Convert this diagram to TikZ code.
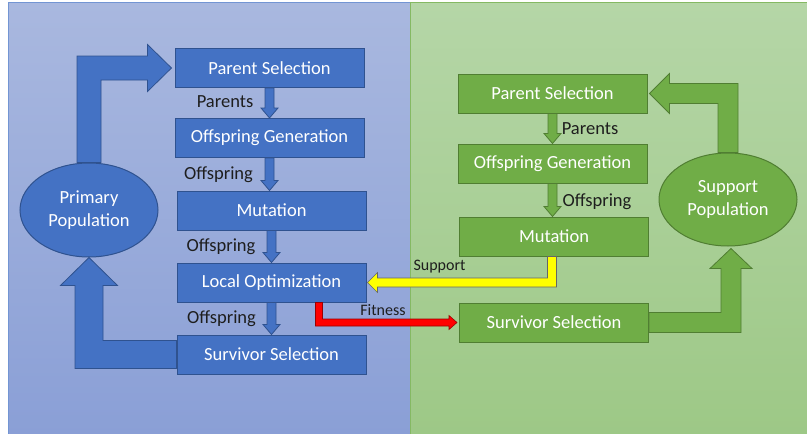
\documentclass[tikz,border=0pt]{standalone}
\usepackage{fontspec}
\setmainfont{Carlito}
\usetikzlibrary{shapes, calc, positioning}
\definecolor{popblue}{HTML}{4472C4}
\definecolor{popblueline}{HTML}{2F528F}
\definecolor{supgreen}{HTML}{70AD47}
\definecolor{supgreenline}{HTML}{507E32}
\definecolor{bluetop}{HTML}{A9B8DF}
\definecolor{bluebottom}{HTML}{8A9FD6}
\definecolor{greentop}{HTML}{B5D6A7}
\definecolor{greenbottom}{HTML}{9DC886}
\definecolor{supyellow}{HTML}{FFFF00}
\definecolor{fitred}{HTML}{FF0000}
\definecolor{labelgray}{HTML}{1E1E1E}

\tikzset{
  stagebox/.style={rectangle, text=white, line width=1pt, minimum width=189pt, minimum height=39pt, inner sep=0pt, font=\fontsize{18.5}{22}\selectfont},
  bluebox/.style={stagebox, draw=popblueline, fill=popblue},
  greenbox/.style={stagebox, draw=supgreenline, fill=supgreen},
  popnode/.style={ellipse, text=white, line width=1pt, minimum width=138pt, minimum height=94pt, inner sep=0pt, align=center, font=\fontsize{18.5}{23}\selectfont},
  flowlabel/.style={inner sep=0pt, text=labelgray, font=\fontsize{18.5}{22}\selectfont},
  crosslabel/.style={inner sep=0pt, text=labelgray, font=\fontsize{16}{19}\selectfont},
  bluearrow/.style={draw=popblueline, fill=popblue, line width=0.8pt},
  greenarrow/.style={draw=supgreenline, fill=supgreen, line width=0.8pt},
  yellowarrow/.style={draw=black!60, fill=supyellow, line width=0.6pt},
  redarrow/.style={draw=fitred!60!black, fill=fitred, line width=0.6pt}
}

\begin{document}
\begin{tikzpicture}[x=1pt, y=-1pt]
  \useasboundingbox (0,0) rectangle (807,434);

  % Two panels
  \shade[top color=bluetop, bottom color=bluebottom, draw=popblue!75, line width=0.8pt] (8,2) rectangle (410,436);
  \shade[top color=greentop, bottom color=greenbottom, draw=supgreen!85, line width=0.8pt] (410,2) rectangle (809,436);

  % Primary side
  \node[bluebox] (lps) at (269.5,68) {Parent Selection};
  \node[bluebox] (log) at (269.5,138) {Offspring Generation};
  \node[bluebox] (lmut) at (271.5,210.5) {Mutation};
  \node[bluebox] (lopt) at (271.5,282.5) {Local Optimization};
  \node[bluebox] (lsur) at (271.5,354.5) {Survivor Selection};
  \node[popnode, draw=popblueline, fill=popblue] (lpop) at (89,210) {Primary\\Population};

  % Support side
  \node[greenbox] (rps) at (552.5,93.5) {Parent Selection};
  \node[greenbox] (rog) at (552.5,163.5) {Offspring Generation};
  \node[greenbox] (rmut) at (554,236.5) {Mutation};
  \node[greenbox] (rsur) at (554,322.5) {Survivor Selection};
  \node[popnode, draw=supgreenline, fill=supgreen, minimum height=93pt] (rpop) at (728,199.5) {Support\\Population};

  % Small flow arrows
  \foreach \a/\b/\s in {lps/log/bluearrow, log/lmut/bluearrow, lmut/lopt/bluearrow, lopt/lsur/bluearrow, rps/rog/greenarrow, rog/rmut/greenarrow}
    \draw[\s] let \p1=(\a.south), \p2=(\b.north) in
      (\x1-4.5pt,\y1) -- (\x1+4.5pt,\y1) -- (\x1+4.5pt,\y2+10pt) -- (\x1+8.5pt,\y2+10pt)
      -- (\x1,\y2) -- (\x1-8.5pt,\y2+10pt) -- (\x1-4.5pt,\y2+10pt) -- cycle;

  % Big loop arrows
  \draw[bluearrow] let \p1=(lpop.north), \p2=(lps.west) in
    (\x1-12pt,\y1) -- (\x1-12pt,\y2+12pt) -- (\x2-27pt,\y2+12pt) -- (\x2-27pt,\y2+23.5pt)
    -- (\x2-3pt,\y2) -- (\x2-27pt,\y2-23.5pt) -- (\x2-27pt,\y2-12pt) -- (\x1+12pt,\y2-12pt)
    -- (\x1+12pt,\y1) -- cycle;
  \draw[bluearrow] let \p1=(lsur.west), \p2=(lpop.south) in
    (\x1,\y1+14pt) -- (\x2+14pt,\y1+14pt) -- (\x2+14pt,\y2-28pt) -- (\x2+28.5pt,\y2-28pt)
    -- (\x2,\y2) -- (\x2-28.5pt,\y2-28pt) -- (\x2-14pt,\y2-28pt) -- (\x2-14pt,\y1-14pt)
    -- (\x1,\y1-14pt) -- cycle;
  \draw[greenarrow] let \p1=(rpop.north), \p2=(rps.east) in
    (\x1+10pt,\y1) -- (\x1+10pt,\y2+10pt) -- (\x2+22pt,\y2+10pt) -- (\x2+22pt,\y2+20pt)
    -- (\x2+2pt,\y2) -- (\x2+22pt,\y2-20pt) -- (\x2+22pt,\y2-10pt) -- (\x1-10pt,\y2-10pt)
    -- (\x1-10pt,\y1) -- cycle;
  \draw[greenarrow] let \p1=(rsur.east), \p2=($(rpop.south)+(3,0)$) in
    (\x1,\y1+10pt) -- (\x2-10pt,\y1+10pt) -- (\x2-10pt,\y2-22pt) -- (\x2-21pt,\y2-22pt)
    -- (\x2,\y2-2pt) -- (\x2+21pt,\y2-22pt) -- (\x2+10pt,\y2-22pt) -- (\x2+10pt,\y1-10pt)
    -- (\x1,\y1-10pt) -- cycle;

  % Cross arrows
  \draw[yellowarrow] let \p1=($(rmut.south)+(-2,0)$), \p2=(lopt.east) in
    (\x1-4.5pt,\y1) -- (\x1-4.5pt,\y2+4.5pt) -- (\x2+11pt,\y2+4.5pt) -- (\x2+11pt,\y2+10pt)
    -- (\x2+1pt,\y2) -- (\x2+11pt,\y2-10pt) -- (\x2+11pt,\y2-4.5pt) -- (\x1+4.5pt,\y2-4.5pt)
    -- (\x1+4.5pt,\y1) -- cycle;
  \draw[redarrow] let \p1=($(lopt.south)+(47.5,0)$), \p2=(rsur.west) in
    (\x1-3.5pt,\y1) -- (\x1-3.5pt,\y2-3.5pt) -- (\x2-10pt,\y2-3.5pt) -- (\x2-10pt,\y2-7pt)
    -- (\x2-2pt,\y2) -- (\x2-10pt,\y2+7pt) -- (\x2-10pt,\y2+3.5pt) -- (\x1+3.5pt,\y2+3.5pt)
    -- (\x1+3.5pt,\y1) -- cycle;

  % Labels
  \node[flowlabel] (lparents) at (225,102) {Parents};
  \node[flowlabel] (loff1) at (218.5,175) {Offspring};
  \node[flowlabel] (loff2) at (221,247) {Offspring};
  \node[flowlabel] (loff3) at (221.5,319) {Offspring};
  \node[flowlabel] (rparents) at (590,129) {Parents};
  \node[flowlabel] (roff) at (597,202) {Offspring};
  \node[crosslabel] (support) at (439.5,267) {Support};
  \node[crosslabel] (fitness) at (383,310) {Fitness};
\end{tikzpicture}
\end{document}
